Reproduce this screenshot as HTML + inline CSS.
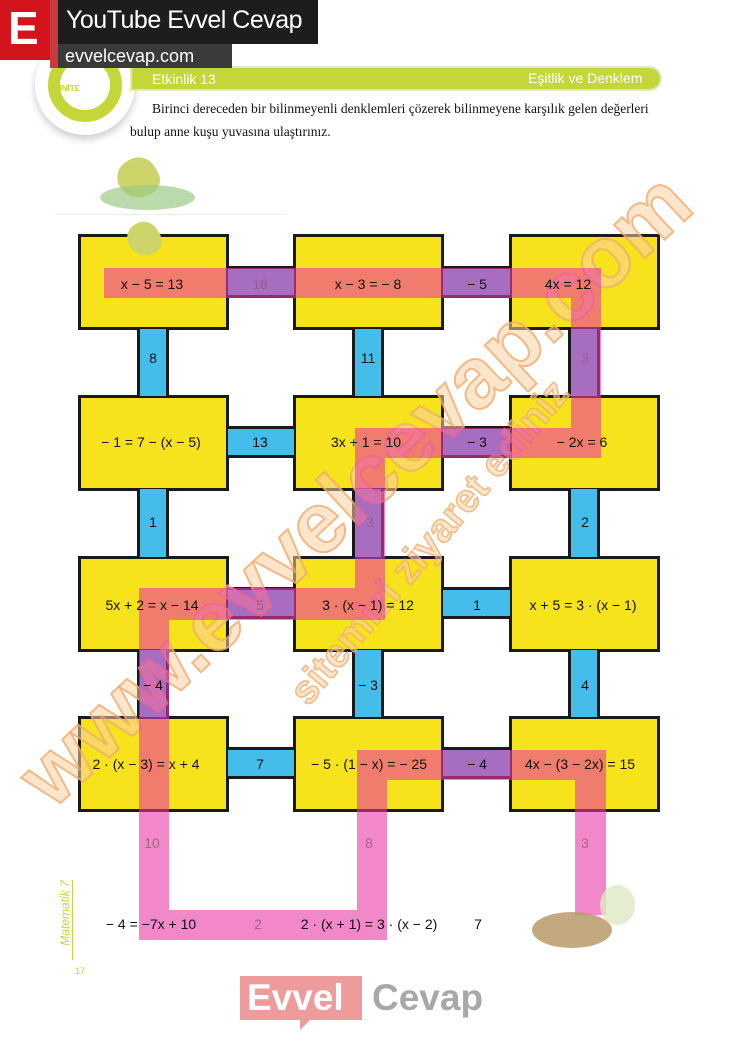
<!DOCTYPE html>
<html><head><meta charset="utf-8"><style>
*{margin:0;padding:0;box-sizing:border-box}
body{width:737px;height:1039px;background:#fff;position:relative;overflow:hidden;font-family:"Liberation Sans",sans-serif}
.a{position:absolute}
.box{position:absolute;background:#f7e31b;border:3px solid #1a1a1a;width:151px;height:96px}
.h{position:absolute;background:#45bdea;border-top:3px solid #1a1a1a;border-bottom:3px solid #1a1a1a;height:32px}
.v{position:absolute;background:#45bdea;border-left:3px solid #1a1a1a;border-right:3px solid #1a1a1a;width:32px}
.p{position:absolute;background:rgba(234,55,165,0.6)}
.t{position:absolute;font-size:14px;color:#111;white-space:nowrap;transform:translate(-50%,-50%)}
</style></head><body>
<div class="a" style="left:35px;top:35px;width:100px;height:100px;border-radius:50%;background:#fff;box-shadow:0 4px 8px #ccc"></div>
<div class="a" style="left:48px;top:48px;width:74px;height:74px;border-radius:50%;border:12px solid #c5d63a"></div>
<div class="a" style="left:56px;top:84px;font-size:8px;font-weight:bold;color:#c5d63a">ÜNİTE</div>
<div class="a" style="left:130px;top:66px;width:532px;height:25px;background:#c5d63a;border-radius:0 13px 13px 0;border:2px solid #e2e6d0"></div>
<div class="a" style="left:152px;top:71px;font-size:14px;color:#fff">Etkinlik 13</div>
<div class="a" style="left:528px;top:70px;font-size:14px;color:#fff">Eşitlik ve Denklem</div>
<div class="a" style="left:0;top:0;width:50px;height:60px;background:#d4141c"></div>
<div class="a" style="left:8px;top:2px;font-size:46px;font-weight:bold;color:#fff;line-height:52px">E</div>
<div class="a" style="left:50px;top:0;width:8px;height:68px;background:#c73a3d"></div>
<div class="a" style="left:58px;top:0;width:260px;height:44px;background:#1d1d1d"></div>
<div class="a" style="left:66px;top:6px;font-size:25px;color:#fff;letter-spacing:-0.5px">YouTube Evvel Cevap</div>
<div class="a" style="left:58px;top:44px;width:174px;height:24px;background:#3a3a3a"></div>
<div class="a" style="left:65px;top:46px;font-size:18px;color:#fff">evvelcevap.com</div>
<div class="a" style="left:152px;top:101px;font-family:'Liberation Serif',serif;font-size:13.5px;color:#111">Birinci dereceden bir bilinmeyenli denklemleri çözerek bilinmeyene karşılık gelen değerleri</div>
<div class="a" style="left:130px;top:124px;font-family:'Liberation Serif',serif;font-size:13.5px;color:#111">bulup anne kuşu yuvasına ulaştırınız.</div>
<div class="a" style="left:118px;top:158px;width:40px;height:40px;border-radius:50% 50% 40% 60%;background:#cdd56a;transform:rotate(-30deg)"></div>
<div class="a" style="left:100px;top:185px;width:95px;height:25px;border-radius:50%;background:#9ccb88;opacity:.7"></div>
<div class="a" style="left:55px;top:214px;width:232px;height:1px;background:#eee"></div>

<div class="box" style="left:78px;top:234px"></div>
<div class="box" style="left:293px;top:234px"></div>
<div class="box" style="left:509px;top:234px"></div>
<div class="box" style="left:78px;top:395px"></div>
<div class="box" style="left:293px;top:395px"></div>
<div class="box" style="left:509px;top:395px"></div>
<div class="box" style="left:78px;top:556px"></div>
<div class="box" style="left:293px;top:556px"></div>
<div class="box" style="left:509px;top:556px"></div>
<div class="box" style="left:78px;top:716px"></div>
<div class="box" style="left:293px;top:716px"></div>
<div class="box" style="left:509px;top:716px"></div>
<div class="a" style="left:128px;top:222px;width:32px;height:34px;border-radius:50% 50% 40% 60%;background:#cdd56a;transform:rotate(-30deg)"></div>
<div class="h" style="left:228px;top:266px;width:66px"></div>
<div class="h" style="left:443px;top:266px;width:67px"></div>
<div class="h" style="left:228px;top:426px;width:66px"></div>
<div class="h" style="left:443px;top:426px;width:67px"></div>
<div class="h" style="left:228px;top:587px;width:66px"></div>
<div class="h" style="left:443px;top:587px;width:67px"></div>
<div class="h" style="left:228px;top:747px;width:66px"></div>
<div class="h" style="left:443px;top:747px;width:67px"></div>
<div class="v" style="left:137px;top:329px;height:67px"></div>
<div class="v" style="left:352px;top:329px;height:67px"></div>
<div class="v" style="left:568px;top:329px;height:67px"></div>
<div class="v" style="left:137px;top:489px;height:68px"></div>
<div class="v" style="left:352px;top:489px;height:68px"></div>
<div class="v" style="left:568px;top:489px;height:68px"></div>
<div class="v" style="left:137px;top:650px;height:67px"></div>
<div class="v" style="left:352px;top:650px;height:67px"></div>
<div class="v" style="left:568px;top:650px;height:67px"></div>

<div class="a" style="left:-110px;top:440px;width:930px;font-size:86px;font-weight:bold;color:rgba(250,210,160,0.55);transform:rotate(-43deg);text-align:center;-webkit-text-stroke:2px rgba(240,170,110,0.8)">www.evvelcevap.com</div>
<div class="a" style="left:150px;top:520px;width:560px;font-size:40px;font-weight:bold;color:rgba(250,210,160,0.55);transform:rotate(-50deg);text-align:center;-webkit-text-stroke:1.5px rgba(240,170,110,0.8)">sitemizi ziyaret ediniz</div>

<div class="p" style="left:104px;top:268px;width:497px;height:30px"></div>
<div class="p" style="left:571px;top:298px;width:30px;height:160px"></div>
<div class="p" style="left:355px;top:428px;width:216px;height:30px"></div>
<div class="p" style="left:355px;top:458px;width:30px;height:162px"></div>
<div class="p" style="left:139px;top:588px;width:216px;height:32px"></div>
<div class="p" style="left:139px;top:620px;width:30px;height:320px"></div>
<div class="p" style="left:169px;top:910px;width:218px;height:30px"></div>
<div class="p" style="left:357px;top:750px;width:30px;height:160px"></div>
<div class="p" style="left:387px;top:750px;width:219px;height:30px"></div>
<div class="p" style="left:575px;top:780px;width:31px;height:135px"></div>

<div class="t" style="left:152px;top:284px">x − 5 = 13</div>
<div class="t" style="left:260px;top:284px;color:#9a5c8e">18</div>
<div class="t" style="left:368px;top:284px">x − 3 = − 8</div>
<div class="t" style="left:477px;top:284px">− 5</div>
<div class="t" style="left:568px;top:284px">4x = 12</div>
<div class="t" style="left:153px;top:358px">8</div>
<div class="t" style="left:368px;top:358px">11</div>
<div class="t" style="left:585px;top:358px;color:#9a5c8e">3</div>
<div class="t" style="left:151px;top:442px">− 1 = 7 −  (x − 5)</div>
<div class="t" style="left:260px;top:442px">13</div>
<div class="t" style="left:366px;top:442px">3x  + 1 = 10</div>
<div class="t" style="left:477px;top:442px">− 3</div>
<div class="t" style="left:582px;top:442px">− 2x = 6</div>
<div class="t" style="left:153px;top:522px">1</div>
<div class="t" style="left:370px;top:522px;color:#9a5c8e">3</div>
<div class="t" style="left:585px;top:522px">2</div>
<div class="t" style="left:152px;top:605px">5x + 2 = x − 14</div>
<div class="t" style="left:260px;top:605px;color:#9a5c8e">5</div>
<div class="t" style="left:368px;top:605px">3 · (x − 1) = 12</div>
<div class="t" style="left:477px;top:605px">1</div>
<div class="t" style="left:583px;top:605px">x + 5 = 3 · (x − 1)</div>
<div class="t" style="left:153px;top:685px">− 4</div>
<div class="t" style="left:368px;top:685px">− 3</div>
<div class="t" style="left:585px;top:685px">4</div>
<div class="t" style="left:146px;top:764px">2 · (x − 3) = x + 4</div>
<div class="t" style="left:260px;top:764px">7</div>
<div class="t" style="left:369px;top:764px">− 5 · (1 − x) = − 25</div>
<div class="t" style="left:477px;top:764px">− 4</div>
<div class="t" style="left:580px;top:764px">4x − (3 − 2x) = 15</div>
<div class="t" style="left:152px;top:843px;color:#9a6a86">10</div>
<div class="t" style="left:369px;top:843px;color:#9a6a86">8</div>
<div class="t" style="left:585px;top:843px;color:#9a6a86">3</div>
<div class="t" style="left:151px;top:924px">− 4 = −7x + 10</div>
<div class="t" style="left:258px;top:924px;color:#9a6a86">2</div>
<div class="t" style="left:369px;top:924px">2 · (x + 1) = 3 · (x − 2)</div>
<div class="t" style="left:478px;top:924px">7</div>

<div class="a" style="left:532px;top:912px;width:80px;height:36px;border-radius:50%;background:#b89a6a;opacity:.85"></div>
<div class="a" style="left:600px;top:885px;width:35px;height:40px;border-radius:50%;background:#dfe9c6;opacity:.8"></div>

<div class="a" style="left:72px;top:880px;width:1px;height:80px;background:#c5d63a"></div>
<div class="a" style="left:20px;top:906px;width:90px;transform:rotate(-90deg);font-size:12px;font-style:italic;color:#c5d63a;text-align:center">Matematik 7</div>
<div class="a" style="left:75px;top:966px;font-size:9px;color:#c5d63a">17</div>

<div class="a" style="left:240px;top:976px;width:122px;height:44px;background:#ee9b9b"></div>
<div class="a" style="left:300px;top:1018px;width:0;height:0;border-left:12px solid #ee9b9b;border-bottom:12px solid transparent"></div>
<div class="a" style="left:247px;top:976px;font-size:37px;font-weight:bold;color:#fff;line-height:44px">Evvel</div>
<div class="a" style="left:372px;top:976px;font-size:37px;font-weight:bold;color:#a8a8a8;line-height:44px">Cevap</div>
</body></html>
